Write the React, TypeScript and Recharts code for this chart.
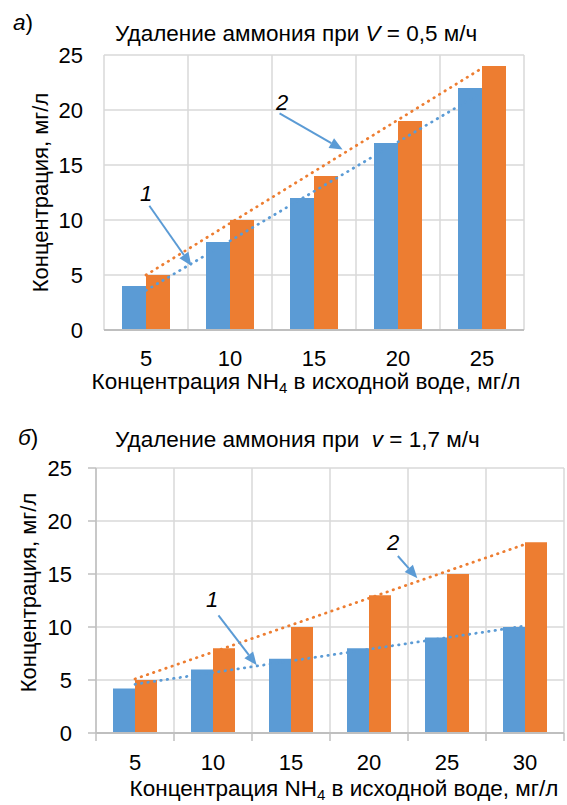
import React from 'react';
import { BarChart, Bar, Line, XAxis, YAxis, CartesianGrid, ReferenceLine, ReferenceDot } from 'recharts';

const FONT = '"Liberation Sans", Arial, sans-serif';
const BLUE = '#5b9bd5';
const ORANGE = '#ed7d31';
const GRID = '#d9d9d9';
const AXIS = '#bfbfbf';

// panel а) V = 0,5 м/ч
const catsA = ['5', '10', '15', '20', '25'];
const series1A = [4, 8, 12, 17, 22];
const series2A = [5, 10, 14, 19, 24];
const trend1A = [3.6, null, null, null, 21.6];
const trend2A = [5.0, null, null, null, 23.8];

// panel б) v = 1,7 м/ч
const catsB = ['5', '10', '15', '20', '25', '30'];
const series1B = [4.2, 6, 7, 8, 9, 10];
const series2B = [5, 8, 10, 13, 15, 18];
const trend1B = [4.6, null, null, null, null, 10.1];
const trend2B = [5.1, null, null, null, null, 17.8];

const yTicks = [0, 5, 10, 15, 20, 25];
const boundsA = [0.5, 1.5, 2.5, 3.5, 4.5, 5.5];
const boundsB = [0.5, 1.5, 2.5, 3.5, 4.5, 5.5, 6.5];

// callouts, in (category position 1..n, value)
const arrowsA = [
  { label: '1', at: [1.0, 12.45], from: [1.04, 11.3], to: [1.54, 5.85] },
  { label: '2', at: [2.62, 20.7], from: [2.59, 19.7], to: [3.34, 16.4] },
];
const arrowsB = [
  { label: '1', at: [1.99, 12.55], from: [2.07, 11.1], to: [2.56, 6.4] },
  { label: '2', at: [4.31, 18.0], from: [4.37, 16.7], to: [4.62, 14.6] },
];

const build = (cats: string[], s1: number[], s2: number[], t1: (number | null)[], t2: (number | null)[]) =>
  cats.map((c, i) => ({ cat: c, pos: i + 1, s1: s1[i], s2: s2[i], t1: t1[i], t2: t2[i] }));

const dataA = build(catsA, series1A, series2A, trend1A, trend2A);
const dataB = build(catsB, series1B, series2B, trend1B, trend2B);

const tickFont = { fontSize: 22, fill: '#000', fontFamily: FONT };

// x tick of panel б: label at the category centre, tick marks on the category borders
const TickB = (p: any) => {
  const { x, y, payload, index, visibleTicksCount } = p;
  const half = payload && payload.offset ? payload.offset : 39;
  const last = index === visibleTicksCount - 1;
  return (
    <g>
      <line x1={x - half} x2={x - half} y1={y} y2={y + 8} stroke={AXIS} strokeWidth={1.5} />
      {last && <line x1={x + half} x2={x + half} y1={y} y2={y + 8} stroke={AXIS} strokeWidth={1.5} />}
      <text x={x} y={y + 37} textAnchor="middle" fontSize={22} fontFamily={FONT} fill="#000">{payload.value}</text>
    </g>
  );
};

const Arrow = (props: any) => {
  const { x1, y1, x2, y2 } = props;
  const a = Math.atan2(y2 - y1, x2 - x1);
  const len = 13;
  const half = 5.5;
  const bx = x2 - len * Math.cos(a);
  const by = y2 - len * Math.sin(a);
  const px = -Math.sin(a) * half;
  const py = Math.cos(a) * half;
  return (
    <g>
      <line x1={x1} y1={y1} x2={bx} y2={by} stroke={BLUE} strokeWidth={2} />
      <polygon points={`${x2},${y2} ${bx + px},${by + py} ${bx - px},${by - py}`} fill={BLUE} />
    </g>
  );
};

const calloutText = (label: string) => (p: any) => (
  <text x={p.cx} y={p.cy} textAnchor="middle" dominantBaseline="central"
    fontSize={22} fontStyle="italic" fontFamily={FONT} fill="#000">{label}</text>
);

const xTitle = (dx: number, dy: number) => (p: any) => {
  const vb = p.viewBox;
  return (
    <text x={vb.x + vb.width / 2 + dx} y={vb.y + dy} textAnchor="middle" fontSize={22.5} fontFamily={FONT} fill="#000">
      <tspan>Концентрация NH</tspan>
      <tspan fontSize={15} dy={4}>4</tspan>
      <tspan dy={-4}> в исходной воде, мг/л</tspan>
    </text>
  );
};

const yTitle = (x: number, dy: number) => (p: any) => {
  const vb = p.viewBox;
  const cy = vb.y + vb.height / 2 + dy;
  return (
    <text x={x} y={cy} transform={`rotate(-90 ${x} ${cy})`} textAnchor="middle" dominantBaseline="central"
      fontSize={22} fontFamily={FONT} fill="#000">Концентрация, мг/л</text>
  );
};

const renderCallouts = (arrows: typeof arrowsA) =>
  arrows.flatMap((a) => [
    <ReferenceLine key={'l' + a.label} xAxisId="num" segment={[{ x: a.from[0], y: a.from[1] }, { x: a.to[0], y: a.to[1] }]}
      shape={Arrow} />,
    <ReferenceDot key={'d' + a.label} xAxisId="num" x={a.at[0]} y={a.at[1]} r={0} shape={calloutText(a.label)} />,
  ]);

const trendProps = {
  strokeWidth: 2.75,
  strokeDasharray: '0.5 6',
  strokeLinecap: 'round' as const,
  dot: false,
  activeDot: false,
  connectNulls: true,
  isAnimationActive: false,
};

export default function App() {
  return (
    <div style={{ position: 'absolute', left: 0, top: 0, width: 567, height: 805, background: '#fff', fontFamily: FONT }}>
      <div style={{ position: 'absolute', left: 0, top: 0 }}>
        <BarChart width={567} height={400} data={dataA} barGap={0} margin={{ top: 55, right: 43, left: 0, bottom: 0 }}>
          <CartesianGrid xAxisId="num" stroke={GRID} strokeWidth={1.5} />
          <XAxis xAxisId="num" dataKey="pos" type="number" domain={[0.5, 5.5]} ticks={boundsA} hide allowDataOverflow />
          <XAxis xAxisId="cat" dataKey="cat" height={70} axisLine={{ stroke: AXIS, strokeWidth: 2 }} tickLine={false} tickSize={0}
            tickMargin={20} tick={tickFont} interval={0} label={{ content: xTitle(-8, 59) }} />
          <YAxis domain={[0, 25]} ticks={yTicks} width={104} axisLine={false} tickLine={false} tickSize={0}
            tickMargin={21} tick={tickFont} label={{ content: yTitle(40, 0) }} />
          <Bar xAxisId="cat" dataKey="s1" fill={BLUE} barSize={24} isAnimationActive={false} />
          <Bar xAxisId="cat" dataKey="s2" fill={ORANGE} barSize={24} isAnimationActive={false} />
          <Line xAxisId="cat" dataKey="t1" stroke={BLUE} {...trendProps} />
          <Line xAxisId="cat" dataKey="t2" stroke={ORANGE} {...trendProps} />
          {renderCallouts(arrowsA)}
        </BarChart>
      </div>
      <div style={{ position: 'absolute', left: 0, top: 400 }}>
        <BarChart width={567} height={405} data={dataB} barGap={0} margin={{ top: 68, right: 3, left: 0, bottom: 0 }}>
          <CartesianGrid xAxisId="num" stroke={GRID} strokeWidth={1.5} />
          <XAxis xAxisId="num" dataKey="pos" type="number" domain={[0.5, 6.5]} ticks={boundsB} hide allowDataOverflow />
          <XAxis xAxisId="cat" dataKey="cat" height={72} axisLine={{ stroke: AXIS, strokeWidth: 2 }} tickLine={false} tickSize={0}
            tickMargin={0} tick={<TickB />} interval={0} label={{ content: xTitle(14, 63) }} />
          <YAxis domain={[0, 25]} ticks={yTicks} width={96} axisLine={{ stroke: AXIS, strokeWidth: 1.5 }}
            tickLine={{ stroke: AXIS, strokeWidth: 1.5 }} tickSize={8} tickMargin={16} tick={tickFont}
            label={{ content: yTitle(28, -8) }} />
          <Bar xAxisId="cat" dataKey="s1" fill={BLUE} barSize={22} isAnimationActive={false} />
          <Bar xAxisId="cat" dataKey="s2" fill={ORANGE} barSize={22} isAnimationActive={false} />
          <Line xAxisId="cat" dataKey="t1" stroke={BLUE} {...trendProps} />
          <Line xAxisId="cat" dataKey="t2" stroke={ORANGE} {...trendProps} />
          {renderCallouts(arrowsB)}
        </BarChart>
      </div>
      <svg width={567} height={805} style={{ position: 'absolute', left: 0, top: 0, pointerEvents: 'none' }}>
        <g fontFamily={FONT} fontSize={22.5} fill="#000">
          <text x={13} y={30}><tspan fontStyle="italic">а</tspan>)</text>
          <text x={115} y={41}>Удаление аммония при <tspan fontStyle="italic">V</tspan> = 0,5 м/ч</text>
          <text x={18} y={445}><tspan fontStyle="italic">б</tspan>)</text>
          <text x={115} y={447} style={{ whiteSpace: 'pre' }}>Удаление аммония при  <tspan fontStyle="italic">v</tspan> = 1,7 м/ч</text>
        </g>
      </svg>
    </div>
  );
}
